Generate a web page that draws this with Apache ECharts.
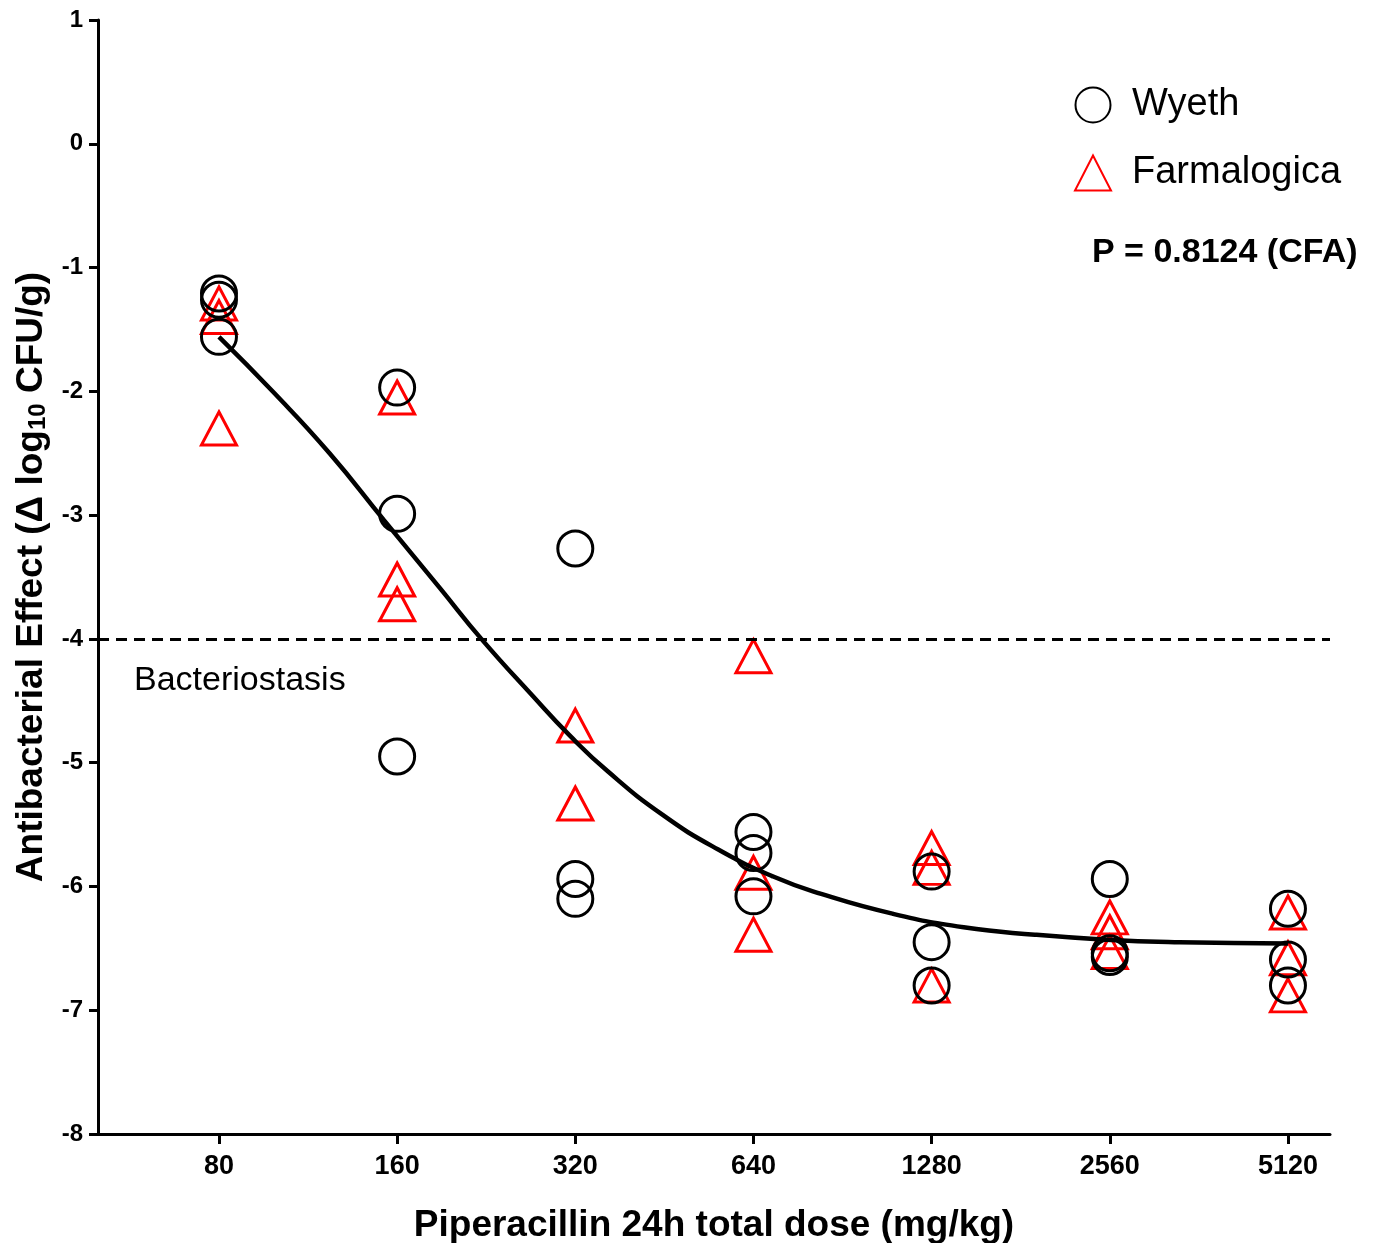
<!DOCTYPE html>
<html>
<head>
<meta charset="utf-8">
<script src="https://cdn.jsdelivr.net/npm/echarts@6/dist/echarts.min.js"></script>
<style>
  html, body { margin: 0; padding: 0; background: #fff; }
  #chart { width: 1376px; height: 1243px; }
</style>
</head>
<body>
<div id="chart"></div>
<script>
// dose levels (mg/kg), the x axis is log2 spaced
var doseTicks = [80, 160, 320, 640, 1280, 2560, 5120];

// Wyeth replicates per dose
var wyeth80 = [-1.21, -1.26, -1.56];
var wyeth160 = [-1.97, -2.99, -4.95];
var wyeth320 = [-3.27, -5.94, -6.10];
var wyeth640 = [-5.56, -5.73, -6.08];
var wyeth1280 = [-5.88, -6.45, -6.80];
var wyeth2560 = [-5.94, -6.54, -6.57];
var wyeth5120 = [-6.18, -6.59, -6.80];

// Farmalogica replicates per dose
var farma80 = [-1.29, -1.40, -2.30];
var farma160 = [-2.05, -3.52, -3.72];
var farma320 = [-4.70, -5.33];
var farma640 = [-4.14, -5.89, -6.39];
var farma1280 = [-5.69, -5.85, -6.80];
var farma2560 = [-6.25, -6.37, -6.53];
var farma5120 = [-6.21, -6.58, -6.88];

// fitted curve
var curveDose = [80, 99, 123, 152, 189, 222, 271, 313, 363, 449, 557, 691, 833, 1099, 1450, 1913, 2525, 3355, 5120];
var curveVal = [-1.56, -2.01, -2.50, -3.04, -3.59, -4.00, -4.46, -4.78, -5.07, -5.42, -5.70, -5.92, -6.06, -6.22, -6.33, -6.39, -6.43, -6.45, -6.46];

var stasisLevel = -4;

var wyethGroups = [wyeth80, wyeth160, wyeth320, wyeth640, wyeth1280, wyeth2560, wyeth5120];
var farmaGroups = [farma80, farma160, farma320, farma640, farma1280, farma2560, farma5120];

function pos(d){ return Math.log2(d / 80); }

function toPoints(groups){
	var out = [];
	groups.forEach(function(vals, i){
		vals.forEach(function(v){ out.push([pos(doseTicks[i]), v]); });
	});
	return out;
}

var tickPos = doseTicks.map(pos);
var curveData = curveDose.map(function(d, i){ return [pos(d), curveVal[i]]; });

var font = "'Liberation Sans', Arial, sans-serif";

var chart = echarts.init(document.getElementById('chart'), null, {renderer: 'canvas'});
chart.setOption({
	backgroundColor: '#fff',
	animation: false,
	grid: { left: 98, right: 46, top: 20, bottom: 109, containLabel: false, outerBoundsMode: 'none' },
	legend: {
		orient: 'vertical',
		left: 1069,
		top: 81,
		itemWidth: 36,
		itemHeight: 35,
		itemGap: 30,
		data: ['Wyeth', 'Farmalogica'],
		formatter: '{n|{name}}',
		textStyle: {
			color: '#000',
			rich: { n: { fontFamily: font, fontSize: 38, color: '#000', padding: [0, 0, 0, 16] } }
		}
	},
	xAxis: {
		type: 'value',
		min: -0.679,
		max: 6.236,
		name: 'Piperacillin 24h total dose (mg/kg)',
		nameLocation: 'middle',
		nameGap: 73,
		nameTextStyle: { fontFamily: font, fontSize: 37, fontWeight: 'bold', color: '#000' },
		axisLine: { onZero: false, lineStyle: { color: '#000', width: 3 } },
		axisTick: { customValues: tickPos, length: 10, lineStyle: { color: '#000', width: 3 } },
		axisLabel: {
			customValues: tickPos,
			margin: 19,
			fontFamily: font, fontSize: 27, fontWeight: 'bold', color: '#000',
			formatter: function(v){ return String(Math.round(80 * Math.pow(2, v))); }
		},
		splitLine: { show: false }
	},
	yAxis: {
		type: 'value',
		min: -8,
		max: 1,
		interval: 1,
		name: '{a|Antibacterial Effect (Δ log}{s|10}{a| CFU/g)}',
		nameLocation: 'middle',
		nameRotate: 90,
		nameGap: 47,
		nameTextStyle: {
			rich: {
				a: { fontFamily: font, fontSize: 37, fontWeight: 'bold', color: '#000', lineHeight: 44, verticalAlign: 'bottom' },
				s: { fontFamily: font, fontSize: 24, fontWeight: 'bold', color: '#000', lineHeight: 30, verticalAlign: 'bottom' }
			}
		},
		axisLine: { show: true, onZero: false, lineStyle: { color: '#000', width: 3 } },
		axisTick: { show: true, length: 9, lineStyle: { color: '#000', width: 3 } },
		axisLabel: { margin: 15, fontFamily: font, fontSize: 24, fontWeight: 'bold', color: '#000' },
		splitLine: { show: false }
	},
	series: [
		{
			name: 'Farmalogica',
			type: 'scatter',
			symbol: 'triangle',
			symbolSize: [35, 33],
			itemStyle: { color: 'rgba(0,0,0,0)', borderColor: '#ff0000', borderWidth: 3, opacity: 1 },
			data: toPoints(farmaGroups),
			z: 3
		},
		{
			name: 'Wyeth',
			type: 'scatter',
			symbol: 'circle',
			symbolSize: 35,
			itemStyle: { color: 'rgba(0,0,0,0)', borderColor: '#000', borderWidth: 3, opacity: 1 },
			data: toPoints(wyethGroups),
			z: 4
		},
		{
			name: 'fit',
			type: 'line',
			smooth: 0.5,
			showSymbol: false,
			lineStyle: { color: '#000', width: 4.5 },
			data: curveData,
			z: 5,
			markLine: {
				silent: true,
				symbol: ['none', 'none'],
				label: { show: false },
				lineStyle: { color: '#000', width: 3, type: [11, 7] },
				data: [{ yAxis: stasisLevel }]
			}
		}
	],
	graphic: [
		{
			type: 'text', left: 134, top: 664,
			style: { text: 'Bacteriostasis', font: '34px ' + font, fill: '#000' }
		},
		{
			type: 'text', left: 1092, top: 236,
			style: { text: 'P = 0.8124 (CFA)', font: 'bold 34px ' + font, fill: '#000' }
		}
	]
});
</script>
</body>
</html>
